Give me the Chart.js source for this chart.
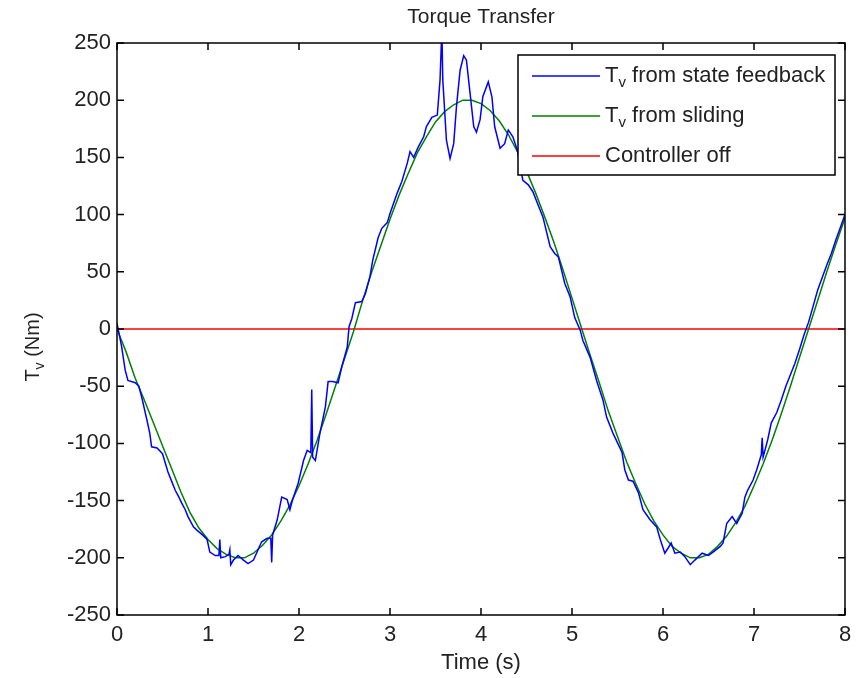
<!DOCTYPE html>
<html>
<head>
<meta charset="utf-8">
<script src="https://cdn.jsdelivr.net/npm/chart.js@4.4.1/dist/chart.umd.min.js"></script>
<style>
  html, body { margin: 0; padding: 0; background: #fff; }
  canvas { display: block; }
</style>
</head>
<body>
<canvas id="myChart" width="860" height="678"></canvas>
<script>
// datos
const xTicks = [ 0, 1, 2, 3, 4, 5, 6, 7, 8 ]
const yTicks = [ -250, -200, -150, -100, -50, 0, 50, 100, 150, 200, 250 ]

const blueTime = [
  0.00, 0.05, 0.09, 0.12, 0.20, 0.24, 0.27, 0.33, 0.36, 0.38, 0.44, 0.50, 0.56, 0.60, 0.64, 0.68, 0.71, 0.75, 0.78, 0.84,
  0.88, 0.94, 0.99, 1.02, 1.08, 1.12, 1.13, 1.14, 1.19, 1.23, 1.24, 1.25, 1.28, 1.33, 1.39, 1.44, 1.50, 1.55, 1.59, 1.65,
  1.69, 1.70, 1.71, 1.76, 1.81, 1.87, 1.90, 1.93, 1.99, 2.05, 2.09, 2.13, 2.14, 2.15, 2.18, 2.23, 2.29, 2.32, 2.37, 2.43,
  2.47, 2.53, 2.55, 2.58, 2.62, 2.69, 2.73, 2.78, 2.81, 2.87, 2.91, 2.97, 3.00, 3.08, 3.13, 3.19, 3.22, 3.26, 3.31, 3.37,
  3.40, 3.46, 3.52, 3.55, 3.57, 3.58, 3.62, 3.66, 3.70, 3.73, 3.77, 3.81, 3.84, 3.88, 3.92, 3.95, 3.99, 4.02, 4.08, 4.12,
  4.15, 4.21, 4.26, 4.30, 4.35, 4.40, 4.46, 4.52, 4.57, 4.62, 4.68, 4.76, 4.81, 4.85, 4.92, 4.98, 5.03, 5.09, 5.12, 5.20,
  5.27, 5.34, 5.38, 5.45, 5.55, 5.58, 5.62, 5.67, 5.73, 5.78, 5.86, 5.93, 5.97, 6.02, 6.06, 6.09, 6.13, 6.19, 6.24, 6.30,
  6.35, 6.43, 6.50, 6.55, 6.63, 6.66, 6.70, 6.76, 6.81, 6.87, 6.90, 6.93, 6.99, 7.03, 7.08, 7.09, 7.10, 7.15, 7.19, 7.25,
  7.30, 7.35, 7.40, 7.45, 7.50, 7.55, 7.60, 7.65, 7.70, 7.75, 7.80, 7.85, 7.90, 7.95, 8.00
]
const blueTorque = [
  5, -15, -36, -45, -47, -50, -59, -80, -91, -103, -104, -109, -125, -133, -141, -147, -152, -158, -164, -173,
  -176, -180, -184, -195, -198, -198, -184, -200, -199, -197, -193, -206, -202, -198, -202, -205, -202, -193, -186, -183,
  -183, -204, -180, -167, -147, -149, -158, -149, -135, -115, -106, -108, -53, -112, -115, -91, -68, -46, -46, -47,
  -33, -16, 2, 9, 23, 24, 31, 46, 60, 80, 88, 93, 101, 119, 129, 145, 155, 150, 159, 168,
  177, 185, 187, 218, 262, 218, 165, 149, 162, 194, 226, 239, 235, 206, 177, 172, 183, 203, 216, 203,
  177, 158, 162, 174, 168, 156, 130, 126, 120, 110, 98, 72, 66, 63, 40, 28, 10, -1, -10, -25,
  -45, -62, -77, -91, -108, -123, -132, -133, -143, -158, -167, -173, -184, -196, -191, -187, -196, -195, -199, -206,
  -202, -196, -198, -195, -190, -187, -170, -164, -170, -161, -147, -141, -132, -123, -110, -95, -112, -97, -82, -73,
  -62, -50, -40, -30, -18, -5, 6, 20, 34, 45, 56, 66, 78, 89, 100
]

const greenTime = [
  0, 0.1, 0.2, 0.3, 0.4, 0.5, 0.6, 0.7, 0.8, 0.9, 1, 1.1, 1.2, 1.3, 1.4, 1.5, 1.6, 1.7, 1.8, 1.9,
  2, 2.1, 2.2, 2.3, 2.4, 2.5, 2.6, 2.7, 2.8, 2.9, 3, 3.1, 3.2, 3.3, 3.4, 3.5, 3.6, 3.7, 3.8, 3.9,
  4, 4.1, 4.2, 4.3, 4.4, 4.5, 4.6, 4.7, 4.8, 4.9, 5, 5.1, 5.2, 5.3, 5.4, 5.5, 5.6, 5.7, 5.8, 5.9,
  6, 6.1, 6.2, 6.3, 6.4, 6.5, 6.6, 6.7, 6.8, 6.9, 7, 7.1, 7.2, 7.3, 7.4, 7.5, 7.6, 7.7, 7.8, 7.9, 8
]
const greenTorque = [
  0, -20, -43, -62, -82, -102, -122, -142, -160, -174, -184, -192, -197, -200, -200, -196, -189, -180, -168, -154,
  -137, -118, -97, -74, -50, -26, -2, 25, 50, 73, 96, 117, 136, 154, 168, 181, 190, 196, 200, 200,
  197, 191, 182, 170, 155, 138, 119, 98, 76, 52, 27, 2, -23, -47, -72, -94, -116, -135, -153, -168,
  -180, -190, -196, -200, -200, -197, -190, -181, -169, -155, -137, -118, -97, -74, -50, -25, 0, 25, 50, 74, 97
]

const redTime = [ 0, 8 ]
const redTorque = [ 0, 0 ]

const FONT = '"Liberation Sans", Arial, sans-serif'

const toPoints = ( xs, ys ) => xs.map( ( x, i ) => ( { x: x, y: ys[i] } ) )

// dibuja texto con subindice: parts = [[texto, esSub], ...]
const drawRich = ( ctx, parts, x, y, align, size ) => {
  const big = `${size}px ${FONT}`
  const small = `${Math.round( size * 0.7 )}px ${FONT}`
  let total = 0
  parts.forEach( ( p ) => {
    ctx.font = p[1] ? small : big
    total += ctx.measureText( p[0] ).width
  } )
  let cx = align === 'center' ? x - total / 2 : x
  ctx.textAlign = 'left'
  ctx.textBaseline = 'middle'
  parts.forEach( ( p ) => {
    ctx.font = p[1] ? small : big
    ctx.fillText( p[0], cx, p[1] ? y + 7 : y )
    cx += ctx.measureText( p[0] ).width
  } )
}

const legendParts = [
  [ [ 'T', false ], [ 'v', true ], [ ' from state feedback', false ] ],
  [ [ 'T', false ], [ 'v', true ], [ ' from sliding', false ] ],
  [ [ 'Controller off', false ] ]
]

const framePlugin = {
  id: 'frame',
  afterDatasetsDraw: ( chart ) => {
    const ctx = chart.ctx
    const a = chart.chartArea
    const xs = chart.scales.x
    const ys = chart.scales.y
    ctx.save()
    ctx.strokeStyle = '#000'
    ctx.lineWidth = 1.5
    ctx.strokeRect( a.left, a.top, a.right - a.left, a.bottom - a.top )
    ctx.beginPath()
    xTicks.forEach( ( t ) => {
      const px = xs.getPixelForValue( t )
      ctx.moveTo( px, a.bottom ); ctx.lineTo( px, a.bottom - 7 )
      ctx.moveTo( px, a.top ); ctx.lineTo( px, a.top + 7 )
    } )
    yTicks.forEach( ( t ) => {
      const py = ys.getPixelForValue( t )
      ctx.moveTo( a.left, py ); ctx.lineTo( a.left + 7, py )
      ctx.moveTo( a.right, py ); ctx.lineTo( a.right - 7, py )
    } )
    ctx.stroke()

    // leyenda dentro del grafico
    const lx = 518, ly = 55, lw = 317, lh = 120
    ctx.fillStyle = '#fff'
    ctx.fillRect( lx, ly, lw, lh )
    ctx.strokeRect( lx, ly, lw, lh )
    const rows = [ 76, 116, 156 ]
    chart.data.datasets.forEach( ( ds, i ) => {
      ctx.strokeStyle = ds.borderColor
      ctx.lineWidth = 1.5
      ctx.beginPath()
      ctx.moveTo( 532, rows[i] )
      ctx.lineTo( 600, rows[i] )
      ctx.stroke()
      ctx.fillStyle = '#222'
      drawRich( ctx, legendParts[i], 605, rows[i], 'left', 22 )
    } )

    // titulos
    ctx.fillStyle = '#222'
    drawRich( ctx, [ [ 'Torque Transfer', false ] ], ( a.left + a.right ) / 2, 17, 'center', 21 )
    drawRich( ctx, [ [ 'Time (s)', false ] ], ( a.left + a.right ) / 2, 663, 'center', 22 )
    ctx.translate( 33, 347 )
    ctx.rotate( -Math.PI / 2 )
    drawRich( ctx, [ [ 'T', false ], [ 'v', true ], [ ' (Nm)', false ] ], 0, 0, 'center', 20 )
    ctx.restore()
  }
}

const config = {
  type: 'scatter',
  data: {
    datasets: [
      {
        label: 'Tv from state feedback',
        data: toPoints( blueTime, blueTorque ),
        borderColor: '#0000ff',
        borderWidth: 1.5,
        showLine: true,
        pointRadius: 0
      },
      {
        label: 'Tv from sliding',
        data: toPoints( greenTime, greenTorque ),
        borderColor: '#008000',
        borderWidth: 1.5,
        showLine: true,
        pointRadius: 0
      },
      {
        label: 'Controller off',
        data: toPoints( redTime, redTorque ),
        borderColor: '#ff0000',
        borderWidth: 1.5,
        showLine: true,
        pointRadius: 0
      }
    ]
  },
  options: {
    responsive: false,
    animation: false,
    devicePixelRatio: 1,
    layout: { padding: { top: 43, right: 15, left: 0, bottom: 0 } },
    plugins: {
      legend: { display: false },
      title: { display: false },
      tooltip: { enabled: false }
    },
    scales: {
      x: {
        type: 'linear',
        min: 0,
        max: 8,
        afterBuildTicks: ( s ) => { s.ticks = xTicks.map( ( v ) => ( { value: v } ) ) },
        afterFit: ( s ) => { s.height = 63 },
        grid: { display: false, drawTicks: false },
        border: { display: false },
        ticks: { color: '#222', font: { family: FONT, size: 22 }, padding: 7, maxRotation: 0 }
      },
      y: {
        type: 'linear',
        min: -250,
        max: 250,
        afterBuildTicks: ( s ) => { s.ticks = yTicks.map( ( v ) => ( { value: v } ) ) },
        afterFit: ( s ) => { s.width = 117 },
        grid: { display: false, drawTicks: false },
        border: { display: false },
        ticks: { color: '#222', font: { family: FONT, size: 22 }, padding: 6 }
      }
    }
  },
  plugins: [ framePlugin ]
}

new Chart( document.getElementById( 'myChart' ), config )
</script>
</body>
</html>
